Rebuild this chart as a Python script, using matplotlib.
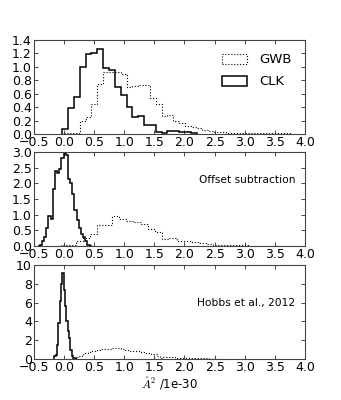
import numpy as np
import matplotlib
matplotlib.use('Agg')
from matplotlib import pyplot as plt
from matplotlib.patches import Patch

### histogram data (bin start, bin width, heights)

# top panel
clk1_start, clk1_width = -0.03, 0.097
clk1 = [0.08, 0.38, 0.55, 1.00, 1.19, 1.20, 1.26, 0.99, 0.95, 0.70, 0.58, 0.40,
        0.26, 0.27, 0.14, 0.14, 0.03, 0.01, 0.04, 0.04, 0.03, 0.03, 0.02]
gwb1_start, gwb1_width = -0.03, 0.097
gwb1 = [0.02, 0.02, 0.02, 0.19, 0.25, 0.44, 0.74, 0.92, 0.93, 0.92, 0.90, 0.70,
        0.72, 0.73, 0.73, 0.53, 0.45, 0.27, 0.28, 0.20, 0.17, 0.12, 0.10, 0.09,
        0.06, 0.05, 0.03, 0.03, 0.02, 0.01, 0.01, 0.01, 0.01, 0.01, 0.01, 0.01,
        0.01, 0.01, 0.01]

# middle panel
clk2_start, clk2_width = -0.44, 0.036
clk2 = [0.01, 0.03, 0.17, 0.28, 0.57, 0.97, 0.86, 1.83, 2.40, 2.32, 2.45, 2.80,
        2.97, 2.90, 2.15, 2.02, 1.65, 1.16, 0.84, 0.57, 0.39, 0.28, 0.17, 0.03,
        0.01]
gwb2_start, gwb2_width = -0.05, 0.12
gwb2 = [0.02, 0.03, 0.17, 0.27, 0.38, 0.68, 0.68, 0.95, 0.87, 0.80, 0.77, 0.70,
        0.55, 0.44, 0.23, 0.27, 0.16, 0.15, 0.13, 0.11, 0.06, 0.04, 0.02, 0.02,
        0.02, 0.02, 0.015, 0.01, 0.01, 0.01, 0.01, 0.01, 0.01]

# bottom panel
clk3_start, clk3_width = -0.16, 0.022
clk3 = [0.3, 0.4, 1.5, 3.8, 6.2, 8.0, 9.1, 7.3, 5.6, 4.0, 3.0, 2.2, 1.0, 0.3,
        0.15, 0.1, 0.05]
gwb3_start, gwb3_width = 0.10, 0.05
gwb3 = [0.05, 0.10, 0.20, 0.35, 0.50, 0.60, 0.72, 0.80, 0.90, 0.98, 1.02, 1.05,
        1.03, 1.06, 1.12, 1.16, 1.12, 1.05, 1.00, 0.95, 0.90, 0.85, 0.80, 0.76,
        0.70, 0.64, 0.60, 0.55, 0.48, 0.30, 0.15, 0.18, 0.20, 0.20, 0.18, 0.15,
        0.14, 0.13, 0.12, 0.11, 0.10, 0.09, 0.08, 0.07, 0.07, 0.06, 0.05, 0.05,
        0.04, 0.04, 0.03, 0.03, 0.02, 0.02, 0.01]

x_ticks = [-0.5, 0.0, 0.5, 1.0, 1.5, 2.0, 2.5, 3.0, 3.5, 4.0]
y_ticks = [np.arange(0, 1.41, 0.2), np.arange(0, 3.01, 0.5), np.arange(0, 10.1, 2)]
y_tops = [1.4, 3.0, 10]
panel_text = [None, 'Offset subtraction', 'Hobbs et al., 2012']


def edges(start, width, values):
    return start + width * np.arange(len(values) + 1)


plt.rcParams['mathtext.fontset'] = 'cm'
fig = plt.figure(figsize=(3.41, 4.0), dpi=100)

panels = [(clk1_start, clk1_width, clk1, gwb1_start, gwb1_width, gwb1),
          (clk2_start, clk2_width, clk2, gwb2_start, gwb2_width, gwb2),
          (clk3_start, clk3_width, clk3, gwb3_start, gwb3_width, gwb3)]
bottoms = [0.665, 0.385, 0.1025]
height = 0.235

for i, (cs, cw, cv, gs, gw, gv) in enumerate(panels):
    ax = fig.add_axes([0.0997, bottoms[i], 0.7943, height])
    ax.stairs(gv, edges(gs, gw, gv), color='black', linestyle=':', linewidth=0.8)
    ax.stairs(cv, edges(cs, cw, cv), color='black', linestyle='-', linewidth=1.1)
    ax.set_xlim(-0.5, 4.0)
    ax.set_ylim(0, y_tops[i])
    ax.set_xticks(x_ticks)
    ax.set_yticks(y_ticks[i])
    ax.tick_params(direction='in', top=True, right=True, labelsize=9, length=3, width=0.5, pad=1.5)
    for sp in ax.spines.values():
        sp.set_linewidth(0.8)
        sp.set_color('#444444')
    if i == 0:
        # legend with open rectangles like the old step-histogram legend
        handles = [Patch(facecolor='none', edgecolor='black', linestyle=':', linewidth=0.8, label='GWB'),
                   Patch(facecolor='none', edgecolor='black', linestyle='-', linewidth=1.1, label='CLK')]
        ax.legend(handles=handles, loc='upper right', frameon=False, fontsize=9.5,
                  handlelength=1.9, handleheight=0.8, handletextpad=0.9,
                  borderaxespad=0.6, labelspacing=0.7)
    else:
        ax.text(0.965, 0.7 if i == 1 else 0.6, panel_text[i], transform=ax.transAxes,
                ha='right', va='center', fontsize=7.7)
    if i == 2:
        ax.set_xlabel(r'$\hat{A}^2$ /1e-30', fontsize=8.5, labelpad=1)

plt.savefig('out.png', dpi=100)
